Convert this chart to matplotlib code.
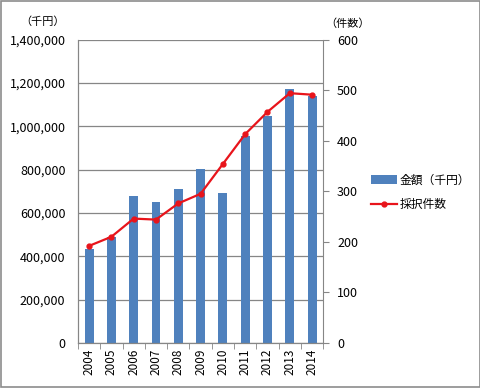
import numpy as np
import matplotlib.pyplot as plt
from matplotlib.ticker import FuncFormatter

plt.rcParams['font.family'] = ['Noto Sans CJK JP', 'DejaVu Sans']

# --- data ---
years = ['2004', '2005', '2006', '2007', '2008', '2009', '2010', '2011', '2012', '2013', '2014']
amount = [432000, 490000, 678000, 650000, 710000, 801000, 693000, 955000, 1047000, 1170000, 1139000]
counts = [192, 210, 246, 244, 276, 295, 354, 413, 457, 494, 491]

bar_color = '#4f81bd'
line_color = '#e8141b'
grid_color = '#868686'

fig = plt.figure(figsize=(4.81, 3.88), dpi=100)
ax = fig.add_axes([0.162, 0.116, 0.510, 0.782])
ax2 = ax.twinx()

x = np.arange(len(years))
ax.bar(x, amount, width=0.4, color=bar_color, label='金額（千円）', zorder=2)
ax2.plot(x, counts, color=line_color, lw=1.6, marker='o', ms=3.5, label='採択件数', zorder=3)

ax.set_xlim(-0.5, len(years) - 0.5)
ax.set_ylim(0, 1400000)
ax2.set_ylim(0, 600)
ax.set_yticks(np.arange(0, 1400001, 200000))
ax2.set_yticks(np.arange(0, 601, 100))
ax.yaxis.set_major_formatter(FuncFormatter(lambda v, p: f'{int(v):,}'))

ax.set_xticks(x)
ax.set_xticklabels(years, rotation=90, fontsize=8.5)
ax.set_xticks(np.arange(-0.5, len(years)), minor=True)
ax.tick_params(axis='x', which='major', length=0, pad=4)
ax.tick_params(axis='x', which='minor', length=4, color=grid_color, direction='out')
ax.tick_params(axis='y', length=0, labelsize=9, pad=9)
ax2.tick_params(axis='y', length=4, color=grid_color, labelsize=9, pad=6)

ax.grid(axis='y', color=grid_color, lw=0.9, zorder=0)
ax.set_axisbelow(True)
for a in (ax, ax2):
    a.spines['top'].set_visible(False)
    for s in ('left', 'right', 'bottom'):
        a.spines[s].set_color(grid_color)
ax.spines['right'].set_visible(False)

fig.text(0.042, 0.945, '（千円）', fontsize=8, ha='left', va='center')
fig.text(0.677, 0.94, '（件数）', fontsize=8, ha='left', va='center')

h1, l1 = ax.get_legend_handles_labels()
h2, l2 = ax2.get_legend_handles_labels()
fig.legend(h1 + h2, l1 + l2, loc='center left', bbox_to_anchor=(0.771, 0.504),
           frameon=False, fontsize=8.5, handlelength=2.2, handletextpad=0.2,
           labelspacing=1.0, borderpad=0, borderaxespad=0)

# outer frame
fig.patches.append(plt.Rectangle((0.002, 0.002), 0.996, 0.996, transform=fig.transFigure,
                                 fill=False, edgecolor='#8c8c8c', lw=1.2))

fig.savefig('out.png', dpi=100)
